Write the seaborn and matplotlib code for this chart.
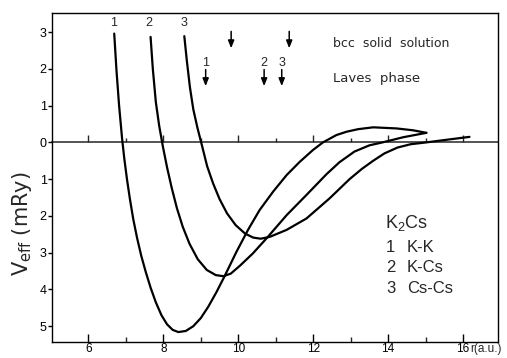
import numpy as np
import pandas as pd
import seaborn as sns
import matplotlib
matplotlib.use("Agg")
import matplotlib.pyplot as plt
from matplotlib import transforms

# ---------------- data ----------------
r_kk = [6.69, 6.75, 6.82, 6.90, 6.96, 7.03, 7.11, 7.20, 7.30, 7.41, 7.53, 7.66,
        7.80, 7.95, 8.10, 8.25, 8.40, 8.60, 8.80, 9.00, 9.20, 9.42, 9.64, 9.95,
        10.26, 10.57, 10.93, 11.29, 11.64, 11.99, 12.26, 12.62, 12.89, 13.20,
        13.60, 14.22, 14.66, 15.02]
v_kk = [2.96, 1.96, 1.00, 0.10, -0.45, -1.00, -1.55, -2.10, -2.60, -3.08, -3.52, -3.95,
        -4.35, -4.70, -4.95, -5.10, -5.16, -5.13, -5.00, -4.78, -4.47, -4.07, -3.63, -2.98,
        -2.38, -1.84, -1.34, -0.89, -0.53, -0.21, 0.00, 0.20, 0.29, 0.36,
        0.41, 0.38, 0.33, 0.26]

r_kcs = [7.66, 7.72, 7.80, 7.89, 7.99, 8.10, 8.22, 8.36, 8.52, 8.70, 8.92, 9.16,
         9.40, 9.60, 9.80, 10.05, 10.39, 10.79, 11.29, 11.82, 12.35, 12.70, 13.10,
         13.50, 13.85, 14.40, 15.02]
v_kcs = [2.87, 2.00, 1.10, 0.45, -0.12, -0.68, -1.22, -1.78, -2.30, -2.76, -3.18, -3.47,
         -3.61, -3.64, -3.57, -3.35, -3.02, -2.57, -1.98, -1.43, -0.87, -0.54, -0.25,
         -0.08, 0.00, 0.14, 0.26]

r_cscs = [8.56, 8.63, 8.71, 8.80, 8.91, 9.04, 9.17, 9.33, 9.50, 9.70, 9.93, 10.18,
          10.40, 10.60, 10.84, 11.29, 11.82, 12.44, 12.97, 13.30, 13.60, 13.90, 14.25,
          14.60, 15.02, 15.55, 16.17]
v_cscs = [2.89, 2.20, 1.50, 0.90, 0.40, -0.12, -0.65, -1.12, -1.54, -1.93, -2.25, -2.48,
          -2.59, -2.62, -2.57, -2.38, -2.07, -1.52, -1.00, -0.72, -0.50, -0.30, -0.14,
          -0.05, 0.00, 0.07, 0.15]

pair_names = ["K-K", "K-Cs", "Cs-Cs"]
pair_numbers = ["1", "2", "3"]

x_major = [6, 8, 10, 12, 14, 16]
x_major_labels = ["6", "8", "10", "12", "14", "16"]
x_minor = [7, 9, 11, 13, 15]
y_ticks = [-5, -4, -3, -2, -1, 0, 1, 2, 3]
y_tick_labels = ["5", "4", "3", "2", "1", "0", "1", "2", "3"]

bcc_arrow_x = [9.81, 11.36]
laves_arrow_x = [9.13, 10.69, 11.16]

# ---------------- build table ----------------
frames = []
for name, r, v in zip(pair_names, [r_kk, r_kcs, r_cscs], [v_kk, v_kcs, v_cscs]):
    frames.append(pd.DataFrame({"r": r, "V": v, "pair": name}))
df = pd.concat(frames, ignore_index=True)

# ---------------- style ----------------
sns.set_style("ticks")
plt.rcParams["font.family"] = ["Liberation Sans", "DejaVu Sans"]
plt.rcParams["mathtext.fontset"] = "custom"
plt.rcParams["mathtext.rm"] = "Liberation Sans"
plt.rcParams["mathtext.it"] = "Liberation Sans"

fig = plt.figure(figsize=(5.07, 3.58), dpi=100)
# axes: left 52px, right 498px, top 13px, bottom 342px
ax = fig.add_axes([0.1026, 0.0447, 0.8803, 0.9190])

sns.lineplot(data=df, x="r", y="V", hue="pair", palette=["black"] * 3,
             sort=False, estimator=None, legend=False, lw=1.6, ax=ax)

ax.set_xlim(5.03, 16.94)
ax.set_ylim(-5.43, 3.52)

for s in ax.spines.values():
    s.set_visible(True)
    s.set_linewidth(1.0)
    s.set_color("black")

# bottom axis
ax.set_xticks(x_major)
ax.set_xticklabels(x_major_labels)
ax.set_xticks(x_minor, minor=True)
ax.tick_params(axis="x", which="major", direction="in", length=6, width=1.0,
               pad=1.0, labelsize=8.5, colors="black")
ax.tick_params(axis="x", which="minor", direction="in", length=3.5, width=1.0)
ax.set_xlabel("")

# left axis
ax.set_yticks(y_ticks)
ax.set_yticklabels(y_tick_labels)
ax.tick_params(axis="y", which="major", direction="out", length=3, width=1.0,
               pad=0.8, labelsize=9, colors="black")
ax.set_ylabel("")

# zero line as a secondary x-axis with upward ticks
y0, y1 = ax.get_ylim()
loc0 = (0 - y0) / (y1 - y0)
sec = ax.secondary_xaxis(loc0)
sec.set_xticks(x_major)
sec.set_xticks(x_minor, minor=True)
sec.tick_params(which="major", direction="out", length=5, width=1.0,
                labeltop=False, labelbottom=False)
sec.tick_params(which="minor", direction="out", length=3, width=1.0)
for s in sec.spines.values():
    s.set_linewidth(1.1)

# y label
ax.text(-0.067, 0.36, r"V$_{\mathregular{eff}}$ (mRy)", transform=ax.transAxes,
        rotation=90, ha="center", va="center", fontsize=15,
        family=["DejaVu Sans"])

# x unit label next to 16
trans = transforms.blended_transform_factory(ax.transData, ax.transAxes)
ax.text(16.18, -0.004, "r(a.u.)", transform=trans, ha="left", va="top",
        fontsize=8.5, clip_on=False)

# curve number labels
for xl, lab in zip([6.68, 7.62, 8.55], pair_numbers):
    ax.text(xl, 3.16, lab, ha="center", va="baseline", fontsize=9)

# arrows
arrow_kw = dict(arrowstyle="-|>,head_length=0.45,head_width=0.18", color="black",
                lw=1.1, shrinkA=0, shrinkB=0)
for xa in bcc_arrow_x:
    ax.annotate("", xy=(xa, 2.56), xytext=(xa, 3.02), arrowprops=arrow_kw)
for xa, lab in zip(laves_arrow_x, pair_numbers):
    ax.annotate("", xy=(xa, 1.53), xytext=(xa, 1.98), arrowprops=arrow_kw)
    ax.text(xa, 2.07, lab, ha="center", va="baseline", fontsize=9)

ax.text(12.52, 2.6, "bcc  solid  solution", ha="left", va="baseline", fontsize=9,
        family=["DejaVu Sans"])
ax.text(12.52, 1.65, "Laves  phase", ha="left", va="baseline", fontsize=9.5,
        family=["DejaVu Sans"])

# legend block
ax.text(13.92, -2.33, r"K$_{\mathregular{2}}$Cs", ha="left", va="baseline", fontsize=13)
for yb, num, name in zip([-2.97, -3.52, -4.10], pair_numbers, pair_names):
    ax.text(13.94, yb, num, ha="left", va="baseline", fontsize=12)
    ax.text(14.50, yb, name, ha="left", va="baseline", fontsize=12)

fig.savefig("out.png", dpi=100)
